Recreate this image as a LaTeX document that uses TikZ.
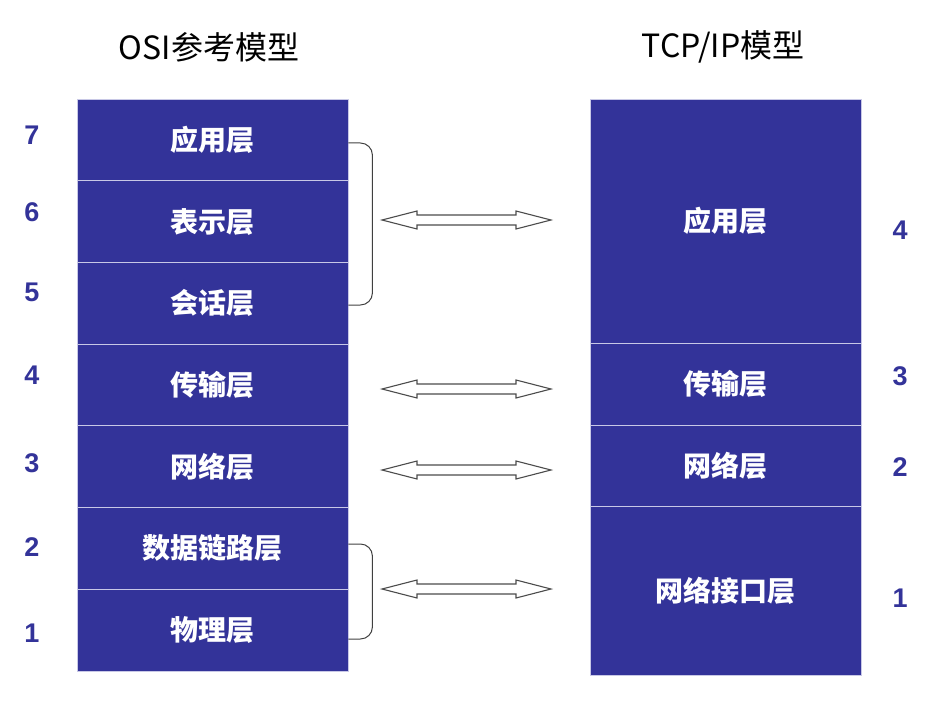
\documentclass[tikz,border=0pt]{standalone}
\usepackage{fontspec}
\setmainfont{Liberation Sans}
\newfontfamily\cjk{Noto Sans CJK SC}
\definecolor{layerblue}{HTML}{333399}
\definecolor{sepline}{HTML}{C8C8E6}
\tikzset{
  layerbox/.style={fill=layerblue, draw=sepline, line width=0.8pt, minimum width=271pt, inner sep=0pt, text=white, font=\cjk\bfseries\fontsize{28}{28}\selectfont},
  numlbl/.style={text=layerblue, font=\bfseries\fontsize{27}{27}\selectfont, inner sep=0pt},
  titlelbl/.style={font=\cjk\fontsize{32}{32}\selectfont, inner sep=0pt},
  arrowline/.style={draw=black!70, fill=white, line width=1.1pt, line join=miter},
  bracket/.style={draw=black!75, line width=1pt, rounded corners=12pt}
}
\newcommand\dblarrow[1]{\draw[arrowline] ([xshift=-84.5pt]#1) -- ++(35,-9) -- ++(0,4) -- ++(99,0) -- ++(0,-4) -- ++(35,9) -- ++(-35,9) -- ++(0,-4) -- ++(-99,0) -- ++(0,4) -- cycle;}
\begin{document}
\begin{tikzpicture}[x=1pt,y=-1pt]
\path[use as bounding box] (0,0) rectangle (949,703);
% titles
\node[titlelbl] (t1) at (209,47) {OSI参考模型};
\node[titlelbl] (t2) at (723,47) {TCP/IP模型};
% OSI layers
\node[layerbox, minimum height=81.7pt] (o7) at (212.5,139.85) {应用层};
\node[layerbox, minimum height=81.7pt] (o6) at (212.5,221.55) {表示层};
\node[layerbox, minimum height=81.7pt] (o5) at (212.5,303.25) {会话层};
\node[layerbox, minimum height=81.7pt] (o4) at (212.5,384.95) {传输层};
\node[layerbox, minimum height=81.7pt] (o3) at (212.5,466.65) {网络层};
\node[layerbox, minimum height=81.7pt] (o2) at (212.5,548.35) {数据链路层};
\node[layerbox, minimum height=81.7pt] (o1) at (212.5,630.05) {物理层};
% TCP/IP layers
\node[layerbox, minimum height=244pt] (p4) at (725.5,221) {应用层};
\node[layerbox, minimum height=82pt] (p3) at (725.5,384) {传输层};
\node[layerbox, minimum height=81pt] (p2) at (725.5,465.5) {网络层};
\node[layerbox, minimum height=169pt] (p1) at (725.5,590.5) {网络接口层};
% numbers left
\node[numlbl] (n7) at (32,135) {7};
\node[numlbl] (n6) at (32,212) {6};
\node[numlbl] (n5) at (32,292) {5};
\node[numlbl] (n4) at (32,375) {4};
\node[numlbl] (n3) at (32,463) {3};
\node[numlbl] (n2) at (32,547) {2};
\node[numlbl] (n1) at (32,633) {1};
% numbers right
\node[numlbl] (m4) at (900,230) {4};
\node[numlbl] (m3) at (900,376) {3};
\node[numlbl] (m2) at (900,467) {2};
\node[numlbl] (m1) at (900,598) {1};
% brackets
\coordinate (ba) at (o7.east |- 0,143);
\coordinate (bb) at (o5.east |- 0,305);
\draw[bracket] (ba) -- ++(24,0) -- ([xshift=24pt]bb) -- (bb);
\coordinate (bc) at (o2.east |- 0,544);
\coordinate (bd) at (o1.east |- 0,639);
\draw[bracket] (bc) -- ++(24,0) -- ([xshift=24pt]bd) -- (bd);
% arrows
\coordinate (a1) at (466.5,220);
\coordinate (a2) at (466.5,389);
\coordinate (a3) at (466.5,470);
\coordinate (a4) at (466.5,589);
\dblarrow{a1}
\dblarrow{a2}
\dblarrow{a3}
\dblarrow{a4}
\end{tikzpicture}
\end{document}
